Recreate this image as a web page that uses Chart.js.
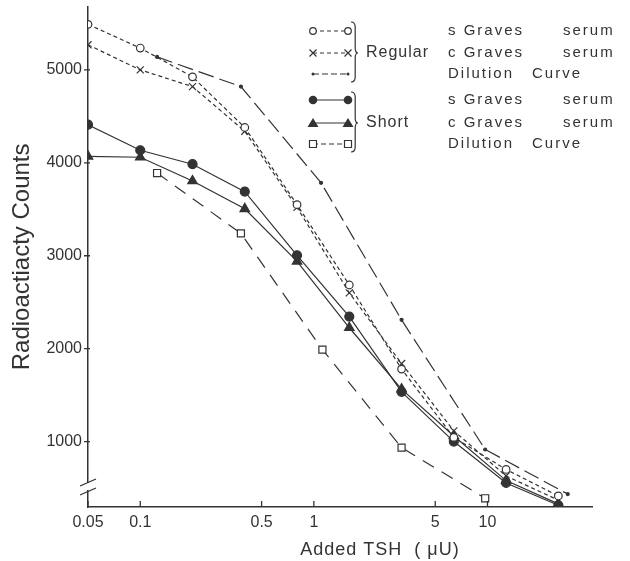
<!DOCTYPE html>
<html lang="en">
<head>
<meta charset="UTF-8">
<title>Radioactivity vs Added TSH</title>
<script src="https://cdn.jsdelivr.net/npm/chart.js"></script>
<style>
  html, body { margin: 0; padding: 0; background: #fff; }
</style>
</head>
<body>
<canvas id="myChart" width="630" height="561"></canvas>
<script>
// doubling doses (uU) used for the serum curves
const doses = [0.05, 0.1, 0.2, 0.4, 0.8, 1.6, 3.2, 6.4, 12.8, 25.6];
const regularS = [5490, 5235, 4925, 4380, 3550, 2685, 1780, 1045, 700, 415];
const regularC = [5270, 5000, 4820, 4340, 3520, 2600, 1840, 1115, 630, 370];
const shortS   = [4410, 4135, 3985, 3690, 3005, 2345, 1535, 1000, 555, 315];
const shortC   = [4070, 4060, 3805, 3505, 2940, 2225, 1565, 1060, 580, 330];

// dilution curves have their own doses
const regDilDoses = [0.125, 0.38, 1.1, 3.2, 9.7, 29];
const regDil      = [5140, 4820, 3785, 2310, 915, 435];
const shortDilDoses = [0.125, 0.38, 1.12, 3.2, 9.7];
const shortDil      = [3890, 3240, 1990, 935, 390];

const xTicks = [0.05, 0.1, 0.5, 1, 5, 10];
const yTicks = [1000, 2000, 3000, 4000, 5000];

const ink = '#333';
const FONT = "'Liberation Sans', Arial, sans-serif";

function pts(xs, ys) {
    return xs.map((x, i) => ({ x: x, y: ys[i] }));
}

const dashShort = [4, 3];
const dashDil = [16, 6];
const dashLong = [13, 9];

const datasets = [
    { data: pts(doses, regularS), borderDash: dashShort, pointStyle: 'circle', pointRadius: 3.8, pointBackgroundColor: '#fff' },
    { data: pts(doses, regularC), borderDash: dashShort, pointStyle: 'crossRot', pointRadius: 5, pointBackgroundColor: ink },
    { data: pts(regDilDoses, regDil), borderDash: dashDil, pointStyle: 'circle', pointRadius: 1.5, pointBackgroundColor: ink },
    { data: pts(doses, shortS), borderDash: [], pointStyle: 'circle', pointRadius: 4.5, pointBackgroundColor: ink },
    { data: pts(doses, shortC), borderDash: [], pointStyle: 'triangle', pointRadius: 5.5, pointBackgroundColor: ink },
    { data: pts(shortDilDoses, shortDil), borderDash: dashLong, pointStyle: 'rect', pointRadius: 5, pointBackgroundColor: '#fff' }
].map(d => Object.assign({
    borderColor: ink,
    borderWidth: 1.2,
    pointBorderColor: ink,
    pointBorderWidth: 1.2,
    tension: 0,
    fill: false
}, d));

// marker used in the hand drawn legend
function marker(ctx, type, x, y) {
    ctx.save();
    ctx.setLineDash([]);
    ctx.lineWidth = 1.2;
    ctx.strokeStyle = ink;
    ctx.fillStyle = ink;
    ctx.beginPath();
    if (type === 'open') {
        ctx.fillStyle = '#fff';
        ctx.arc(x, y, 3.3, 0, Math.PI * 2);
        ctx.fill(); ctx.stroke();
    } else if (type === 'x') {
        ctx.moveTo(x - 3.5, y - 3.5); ctx.lineTo(x + 3.5, y + 3.5);
        ctx.moveTo(x + 3.5, y - 3.5); ctx.lineTo(x - 3.5, y + 3.5);
        ctx.stroke();
    } else if (type === 'dot') {
        ctx.arc(x, y, 1.5, 0, Math.PI * 2);
        ctx.fill();
    } else if (type === 'filled') {
        ctx.arc(x, y, 4.3, 0, Math.PI * 2);
        ctx.fill();
    } else if (type === 'tri') {
        ctx.moveTo(x, y - 5); ctx.lineTo(x + 5.5, y + 4); ctx.lineTo(x - 5.5, y + 4);
        ctx.closePath(); ctx.fill();
    } else if (type === 'square') {
        ctx.fillStyle = '#fff';
        ctx.rect(x - 3.5, y - 3.5, 7, 7);
        ctx.fill(); ctx.stroke();
    }
    ctx.restore();
}

function brace(ctx, x, y1, y2, ym) {
    const w = 7;
    ctx.beginPath();
    ctx.moveTo(x, y1);
    ctx.quadraticCurveTo(x + w * 0.6, y1, x + w * 0.6, y1 + 5);
    ctx.lineTo(x + w * 0.6, ym - 5);
    ctx.quadraticCurveTo(x + w * 0.6, ym, x + w, ym);
    ctx.quadraticCurveTo(x + w * 0.6, ym, x + w * 0.6, ym + 5);
    ctx.lineTo(x + w * 0.6, y2 - 5);
    ctx.quadraticCurveTo(x + w * 0.6, y2, x, y2);
    ctx.stroke();
}

const decorations = {
    id: 'decorations',
    afterDraw(chart) {
        const ctx = chart.ctx;
        const xs = chart.scales.x, ys = chart.scales.y;
        const area = chart.chartArea;
        ctx.save();
        ctx.strokeStyle = ink;
        ctx.lineWidth = 1.3;

        // tick marks: x ticks point up, y ticks cross the axis
        ctx.beginPath();
        xTicks.forEach(v => {
            const px = xs.getPixelForValue(v);
            ctx.moveTo(px, area.bottom); ctx.lineTo(px, area.bottom - 6);
        });
        yTicks.forEach(v => {
            const py = ys.getPixelForValue(v);
            ctx.moveTo(area.left - 4, py); ctx.lineTo(area.left + 2, py);
        });
        ctx.stroke();

        // axis break on the y axis
        ctx.fillStyle = '#fff';
        ctx.fillRect(area.left - 2, 483, 4, 7);
        ctx.beginPath();
        ctx.moveTo(area.left - 8, 486); ctx.lineTo(area.left + 8, 479);
        ctx.moveTo(area.left - 8, 495); ctx.lineTo(area.left + 8, 488);
        ctx.stroke();

        // x axis title
        ctx.fillStyle = ink;
        ctx.font = '18px ' + FONT;
        ctx.textAlign = 'center';
        ctx.textBaseline = 'middle';
        ctx.letterSpacing = '1px';
        ctx.fillText('Added TSH  ( \u03bcU)', 380, 550);

        // legend
        const rows = [
            { y: 31, m: 'open', dash: dashShort, t1: 's Graves', t2: 'serum' },
            { y: 53, m: 'x', dash: dashShort, t1: 'c Graves', t2: 'serum' },
            { y: 74, m: 'dot', dash: [6, 3], t1: 'Dilution', t2: 'Curve' },
            { y: 100, m: 'filled', dash: [], t1: 's Graves', t2: 'serum' },
            { y: 123, m: 'tri', dash: [], t1: 'c Graves', t2: 'serum' },
            { y: 144, m: 'square', dash: [5, 3], t1: 'Dilution', t2: 'Curve' }
        ];
        rows.forEach(r => {
            ctx.save();
            ctx.lineWidth = 1.2;
            ctx.setLineDash(r.dash);
            ctx.beginPath();
            ctx.moveTo(313, r.y); ctx.lineTo(348, r.y);
            ctx.stroke();
            ctx.restore();
            marker(ctx, r.m, 313, r.y);
            marker(ctx, r.m, 348, r.y);

            ctx.font = '15px ' + FONT;
            ctx.textAlign = 'left';
            ctx.letterSpacing = '2px';
            ctx.fillText(r.t1, 448, r.y);
            ctx.fillText(r.t2, r.t2 === 'serum' ? 563 : 532, r.y);
        });
        ctx.lineWidth = 1.2;
        brace(ctx, 351, 22, 82, 53);
        brace(ctx, 351, 92, 152, 123);
        ctx.font = '16px ' + FONT;
        ctx.letterSpacing = '1px';
        ctx.fillText('Regular', 366, 53);
        ctx.fillText('Short', 366, 123);
        ctx.restore();
    }
};

const ctx = document.getElementById('myChart').getContext('2d');
const myChart = new Chart(ctx, {
    type: 'line',
    data: { datasets: datasets },
    options: {
        responsive: false,
        animation: false,
        devicePixelRatio: 1,
        layout: { padding: { top: 3, right: 38, left: 0, bottom: 0 } },
        plugins: { legend: { display: false }, tooltip: { enabled: false } },
        scales: {
            x: {
                type: 'logarithmic',
                min: 0.05,
                max: 40,
                afterBuildTicks: s => { s.ticks = xTicks.map(v => ({ value: v })); },
                afterFit: s => { s.height = 54; s.paddingLeft = 0; s.paddingRight = 0; },
                ticks: {
                    autoSkip: false,
                    maxRotation: 0,
                    padding: 6,
                    color: ink,
                    font: { family: FONT, size: 16 },
                    callback: v => String(v)
                },
                grid: { drawOnChartArea: false, drawTicks: false },
                border: { color: ink, width: 1.5 }
            },
            y: {
                min: 296,
                max: 5680,
                afterBuildTicks: s => { s.ticks = yTicks.map(v => ({ value: v })); },
                afterFit: s => { s.width = 88; s.paddingTop = 0; s.paddingBottom = 0; },
                ticks: {
                    padding: 6,
                    color: ink,
                    font: { family: FONT, size: 16 },
                    callback: v => String(v)
                },
                grid: { drawOnChartArea: false, drawTicks: false },
                border: { color: ink, width: 1.5 },
                title: {
                    display: true,
                    text: 'Radioactiacty Counts',
                    color: ink,
                    font: { family: FONT, size: 24 },
                    padding: { top: 8, bottom: 0 }
                }
            }
        }
    },
    plugins: [decorations]
});
</script>
</body>
</html>
